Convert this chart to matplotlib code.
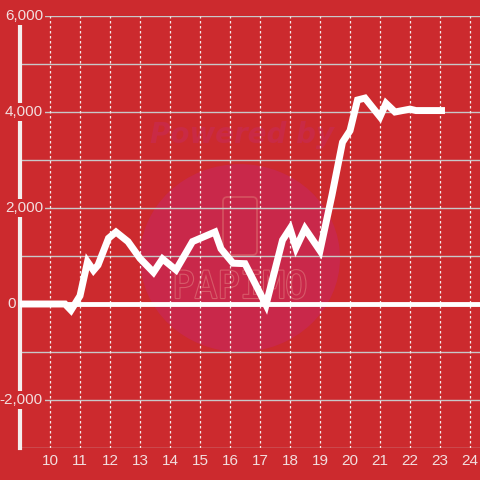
import matplotlib.pyplot as plt
import matplotlib.transforms as mtransforms
import matplotlib.patheffects as pe
from matplotlib.patches import Circle, FancyBboxPatch

BG = "#cc2a2e"
TXT = "#f2dede"
WM = "#c9284a"
FONT = "Liberation Sans"

# hour of day / value
hours = [9.0, 10.5, 10.7, 11.0, 11.25, 11.45, 11.6, 11.95, 12.2, 12.6,
         13.0, 13.45, 13.75, 14.2, 14.75, 15.5, 15.7, 16.1, 16.5, 17.2,
         17.75, 18.0, 18.2, 18.5, 19.0, 19.4, 19.75, 20.0, 20.25, 20.5,
         21.0, 21.2, 21.5, 22.0, 22.2, 23.05]
values = [0, 0, -130, 170, 880, 700, 810, 1370, 1500, 1300,
          950, 660, 940, 710, 1300, 1500, 1150, 850, 840, -20,
          1330, 1570, 1170, 1570, 1110, 2270, 3370, 3610, 4250, 4290,
          3900, 4180, 4000, 4060, 4030, 4030]

x_ticks = list(range(10, 25))
y_grid = list(range(-3000, 7000, 1000))
y_labels = [6000, 4000, 2000, -2000]

fig = plt.figure(figsize=(4.8, 4.8), dpi=100, facecolor=BG)
ax = fig.add_axes([20 / 480, 32 / 480, 460 / 480, 432 / 480])
ax.set_facecolor(BG)
ax.set_xlim(9, 9 + 460 / 30)
ax.set_ylim(-3000, 6000)

# watermark
ax.add_patch(Circle((220 / 460, 190 / 432), 100 / 460, transform=ax.transAxes,
                    facecolor=WM, edgecolor="none", zorder=0))
ax.text(222 / 460, 313 / 432, "Powered by", transform=ax.transAxes,
        ha="center", va="center", fontsize=20, fontweight="bold",
        style="italic", color="#c92a45", family="DejaVu Sans", zorder=0.5)
ax.add_patch(FancyBboxPatch((203 / 460, 193 / 432), 34 / 460, 58 / 432,
                            boxstyle="round,pad=0,rounding_size=0.01",
                            transform=ax.transAxes, facecolor="none",
                            edgecolor="#d4505f", linewidth=1.3, zorder=0.5))
ax.text(220 / 460, 160 / 432, "PAPIMO", transform=ax.transAxes,
        ha="center", va="center", fontsize=27, color=WM,
        family="DejaVu Sans Mono", zorder=0.5,
        path_effects=[pe.withStroke(linewidth=1.6, foreground="#d75a69")])

# grid
for v in y_grid:
    ax.axhline(v, color="#c8c8c8", linewidth=1, zorder=1)
for h in x_ticks:
    ax.axvline(h, color="#f4eaea", linewidth=0.9, linestyle=(0, (2, 2)), zorder=1)
ax.axhline(0, color="white", linewidth=3.5, zorder=2)

ax.plot(hours, values, color="white", linewidth=5, solid_joinstyle="miter", zorder=3)

for s in ["top", "right", "bottom"]:
    ax.spines[s].set_visible(False)
ax.spines["left"].set_color("#f4eeee")
ax.spines["left"].set_linewidth(3)
ax.spines["left"].set_zorder(2)

ax.set_xticks(x_ticks)
ax.set_xticklabels([str(t) for t in x_ticks], fontsize=11, color=TXT, family=FONT)
ax.tick_params(axis="x", length=0, pad=4)
ax.set_yticks([])

trans = mtransforms.blended_transform_factory(ax.transAxes, ax.transData)
for v in y_labels:
    ax.text(23 / 460, v, f"{v:,}", transform=trans, ha="right", va="center",
            fontsize=11, color=TXT, family=FONT, zorder=5,
            bbox=dict(facecolor=BG, edgecolor="none", pad=1.5))
ax.text(-4 / 460, 0, "0", transform=trans, ha="right", va="center",
        fontsize=11, color=TXT, family=FONT, zorder=5, clip_on=False)

fig.savefig("out.png", dpi=100, facecolor=BG)
